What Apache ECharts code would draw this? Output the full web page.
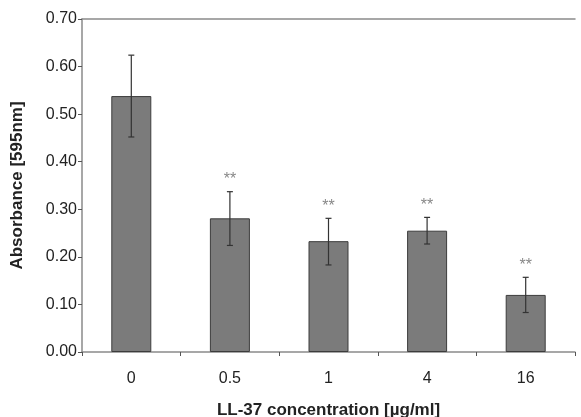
<!DOCTYPE html>
<html>
<head>
<meta charset="utf-8">
<script src="https://cdn.jsdelivr.net/npm/echarts@6/dist/echarts.min.js"></script>
<style>html,body{margin:0;padding:0;background:#fff}#c{width:581px;height:417px}</style>
</head>
<body>
<div id="c"></div>
<script>
const categories = ['0', '0.5', '1', '4', '16'];
const means = [0.538, 0.281, 0.233, 0.255, 0.120];
const errLow = [0.452, 0.224, 0.183, 0.227, 0.083];
const errHigh = [0.624, 0.337, 0.281, 0.283, 0.157];
const marks = ['', '**', '**', '**', '**'];
const yTicks = { min: 0, max: 0.7, step: 0.1 };

const chart = echarts.init(document.getElementById('c'), null, { renderer: 'canvas' });
const errData = categories.map((c, i) => [i, errLow[i], errHigh[i], marks[i]]);
const FONT = 'Liberation Sans, Arial, sans-serif';

chart.setOption({
  animation: false,
  backgroundColor: '#fff',
  grid: { left: 82, top: 19, right: 6, bottom: 65, containLabel: false, outerBoundsMode: 'none' },
  xAxis: [{
    type: 'category',
    data: categories,
    boundaryGap: true,
    axisLine: { show: true, lineStyle: { color: '#8a8a8a', width: 1.5 } },
    axisTick: { show: true, length: 4, lineStyle: { color: '#555' } },
    axisLabel: { color: '#222', fontFamily: FONT, fontSize: 16, margin: 19 },
    name: 'LL-37 concentration [µg/ml]',
    nameLocation: 'middle',
    nameGap: 50,
    nameTextStyle: { color: '#222', fontFamily: FONT, fontSize: 17, fontWeight: 'bold' }
  }, {
    type: 'category',
    data: categories,
    position: 'top',
    axisLine: { show: true, lineStyle: { color: '#8a8a8a', width: 1.5 } },
    axisTick: { show: false },
    axisLabel: { show: false }
  }],
  yAxis: {
    type: 'value',
    min: yTicks.min, max: yTicks.max, interval: yTicks.step,
    axisLine: { show: true, lineStyle: { color: '#8a8a8a', width: 1.5 } },
    axisTick: { show: true, length: 4, lineStyle: { color: '#555' } },
    splitLine: { show: false },
    axisLabel: { color: '#222', fontFamily: FONT, fontSize: 16, margin: 5,
      formatter: v => v.toFixed(2) },
    name: 'Absorbance [595nm]',
    nameLocation: 'middle',
    nameGap: 56,
    nameTextStyle: { color: '#222', fontFamily: FONT, fontSize: 17, fontWeight: 'bold' }
  },
  series: [{
    type: 'bar',
    data: means,
    barWidth: 40,
    itemStyle: { color: '#7b7b7b', borderColor: '#3c3c3c', borderWidth: 1 }
  }, {
    type: 'custom',
    data: errData,
    z: 5,
    renderItem: function (params, api) {
      const x = api.value(0);
      const lo = api.coord([x, api.value(1)]);
      const hi = api.coord([x, api.value(2)]);
      const label = marks[params.dataIndex];
      const cap = 3;
      const children = [
        { type: 'line', shape: { x1: hi[0], y1: hi[1], x2: lo[0], y2: lo[1] }, style: { stroke: '#333', lineWidth: 1.2 } },
        { type: 'line', shape: { x1: hi[0] - cap, y1: hi[1], x2: hi[0] + cap, y2: hi[1] }, style: { stroke: '#333', lineWidth: 1.2 } },
        { type: 'line', shape: { x1: lo[0] - cap, y1: lo[1], x2: lo[0] + cap, y2: lo[1] }, style: { stroke: '#333', lineWidth: 1.2 } }
      ];
      if (label) {
        children.push({ type: 'text', x: hi[0], y: hi[1] - 12, style: {
          text: label, fill: '#888', font: '16px ' + FONT, textAlign: 'center', textVerticalAlign: 'middle' } });
      }
      return { type: 'group', children: children };
    }
  }]
});
</script>
</body>
</html>
